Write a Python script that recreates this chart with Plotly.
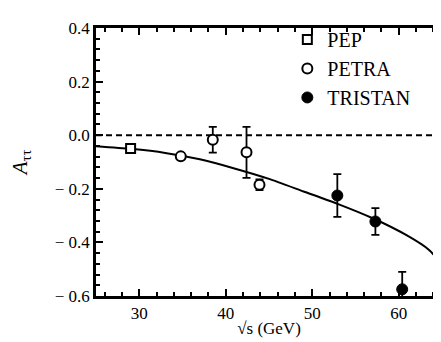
import plotly.graph_objects as go

# Data
pep_x = [29.0]
pep_y = [-0.050]
pep_err = [0.004]

petra_x = [34.8, 38.5, 42.4, 43.9]
petra_y = [-0.079, -0.017, -0.064, -0.185]
petra_err = [0.004, 0.048, 0.095, 0.02]

tristan_x = [52.9, 57.3, 60.4]
tristan_y = [-0.225, -0.322, -0.575]
tristan_err = [0.08, 0.05, 0.065]

curve_x = [25, 29, 33, 37, 41, 45, 49, 53, 57, 61, 63.5, 65]
curve_y = [-0.041, -0.051, -0.066, -0.090, -0.124, -0.163, -0.210, -0.257, -0.310, -0.375, -0.428, -0.483]

zero_x = [25, 65]
zero_y = [0.0, 0.0]

y_ticks = [0.4, 0.2, 0.0, -0.2, -0.4, -0.6]
y_tick_labels = ["0.4", "0.2", "0.0", "\u2212 0.2", "\u2212 0.4", "\u2212 0.6"]
x_ticks = [30, 40, 50, 60]
x_tick_labels = ["30", "40", "50", "60"]

FONT = "Liberation Serif"

fig = go.Figure()

fig.add_trace(go.Scatter(x=zero_x, y=zero_y, mode="lines",
                         line=dict(color="black", width=2, dash="6px,4px"),
                         showlegend=False, hoverinfo="skip"))
fig.add_trace(go.Scatter(x=curve_x, y=curve_y, mode="lines",
                         line=dict(color="black", width=2, shape="spline", smoothing=0.6),
                         showlegend=False))

eb = dict(type="data", thickness=1.8, width=4, color="black")

fig.add_trace(go.Scatter(x=pep_x, y=pep_y, mode="markers", name="PEP",
                         error_y=dict(array=pep_err, **eb),
                         marker=dict(symbol="square", size=9, color="white",
                                     line=dict(width=2, color="black"))))
fig.add_trace(go.Scatter(x=petra_x, y=petra_y, mode="markers", name="PETRA",
                         error_y=dict(array=petra_err, **eb),
                         marker=dict(symbol="circle", size=10, color="white",
                                     line=dict(width=2, color="black"))))
fig.add_trace(go.Scatter(x=tristan_x, y=tristan_y, mode="markers", name="TRISTAN",
                         error_y=dict(array=tristan_err, **eb),
                         marker=dict(symbol="circle", size=11, color="black",
                                     line=dict(width=1, color="black"))))

axis_common = dict(
    showline=True, linewidth=2.5, linecolor="black", mirror="allticks",
    ticks="inside", ticklen=7, tickwidth=2, tickcolor="black",
    showgrid=False, zeroline=False,
    tickfont=dict(family=FONT, size=17, color="black"),
)

fig.update_xaxes(range=[25, 65], tickvals=x_ticks, ticktext=x_tick_labels,
                 minor=dict(dtick=2, tick0=0, ticks="inside", ticklen=4,
                            tickwidth=1.5, tickcolor="black"),
                 title=dict(text="\u221As (GeV)", font=dict(family=FONT, size=17, color="black"),
                            standoff=0),
                 **axis_common)
fig.update_yaxes(range=[-0.6, 0.4], tickvals=y_ticks, ticktext=y_tick_labels,
                 minor=dict(dtick=0.04, tick0=0, ticks="inside", ticklen=4,
                            tickwidth=1.5, tickcolor="black"),
                 title=dict(text="<i>A</i><sub>\u03c4\u03c4</sub>",
                            font=dict(family=FONT, size=21, color="black"), standoff=26),
                 **axis_common)

fig.update_layout(
    width=441, height=342,
    margin=dict(l=88, r=4, t=20, b=54),
    paper_bgcolor="white", plot_bgcolor="white",
    font=dict(family=FONT, color="black"),
    legend=dict(x=0.553, y=1.03, xanchor="left", yanchor="top",
                bgcolor="rgba(0,0,0,0)", borderwidth=0,
                font=dict(family=FONT, size=20, color="black"),
                itemwidth=30),
)

fig.write_html("out.html")
